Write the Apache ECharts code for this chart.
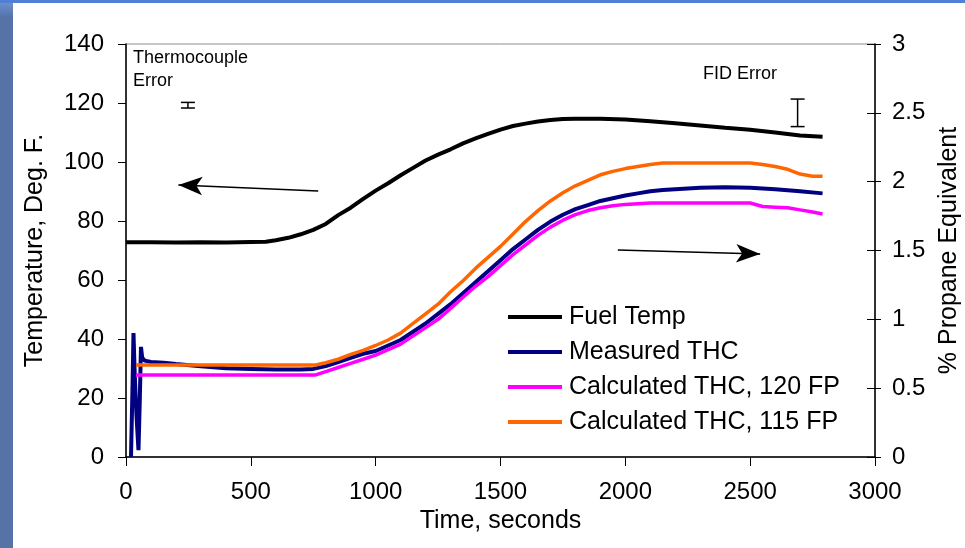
<!DOCTYPE html>
<html>
<head>
<meta charset="utf-8">
<script src="https://cdn.jsdelivr.net/npm/echarts@6/dist/echarts.min.js"></script>
<style>
html,body{margin:0;padding:0;background:#fff;}
#c{width:965px;height:548px;}
</style>
</head>
<body>
<div id="c"></div>
<script>
// ---- data ----
const fuelTime = [0,100,200,300,400,500,560,600,650,700,750,800,850,900,950,1000,1050,1100,1150,1200,1250,1300,1350,1400,1450,1500,1550,1600,1650,1700,1750,1800,1900,2000,2100,2200,2300,2400,2500,2600,2700,2790];
const fuelTemp = [72.8,72.8,72.7,72.8,72.7,72.9,73,73.5,74.3,75.5,77,79,82,84.5,87.5,90.3,92.8,95.5,98,100.5,102.5,104.3,106.3,108,109.5,111,112.2,113,113.7,114.2,114.6,114.7,114.7,114.4,113.8,113.1,112.4,111.6,110.9,110.0,109.0,108.6];

const measTime = [20,26,30,35,42,50,55,60,65,75,100,150,200,300,400,500,600,700,750,800,850,900,950,1000,1050,1100,1150,1200,1250,1300,1350,1400,1450,1500,1550,1600,1650,1700,1750,1800,1850,1900,1950,2000,2050,2100,2150,2200,2300,2400,2500,2600,2700,2790];
const measTHC = [0,0.5,0.9,0.6,0.3,0.05,0.4,0.8,0.72,0.7,0.69,0.685,0.675,0.66,0.645,0.64,0.635,0.635,0.64,0.66,0.69,0.72,0.75,0.77,0.81,0.85,0.91,0.97,1.04,1.11,1.19,1.27,1.35,1.43,1.51,1.58,1.65,1.71,1.76,1.80,1.83,1.86,1.88,1.90,1.915,1.93,1.94,1.945,1.955,1.96,1.955,1.945,1.93,1.915];

const calcTime = [40,200,400,600,760,800,850,900,950,1000,1050,1100,1150,1200,1250,1300,1350,1400,1450,1500,1550,1600,1650,1700,1750,1800,1850,1900,1950,2000,2050,2100,2150,2500,2550,2600,2650,2700,2750,2790];
const calc120 = [0.596,0.596,0.596,0.596,0.596,0.62,0.65,0.68,0.71,0.74,0.78,0.82,0.88,0.94,1.0,1.08,1.16,1.24,1.31,1.39,1.47,1.54,1.61,1.67,1.72,1.76,1.79,1.81,1.825,1.835,1.84,1.845,1.845,1.845,1.82,1.815,1.81,1.795,1.78,1.765];
const calc115 = [0.668,0.668,0.668,0.668,0.668,0.685,0.71,0.745,0.775,0.81,0.85,0.9,0.97,1.04,1.11,1.2,1.28,1.37,1.45,1.53,1.62,1.71,1.79,1.86,1.92,1.97,2.01,2.05,2.075,2.095,2.11,2.125,2.135,2.135,2.125,2.11,2.09,2.055,2.04,2.04];

const seriesNames = ['Fuel Temp','Measured THC','Calculated THC, 120 FP','Calculated THC, 115 FP'];
const xTicks = {min:0, max:3000, interval:500};
const yLeftTicks = {min:0, max:140, interval:20};
const yRightTicks = {min:0, max:3, interval:0.5};

// error bars: [time, low, high]
const thermoErr = [[248, 118.3, 120.2]];
const fidErr = [[2690, 2.4, 2.6]];
// arrows: [from, to] in data coords
const leftArrow = [[770, 90.2], [210, 92.2]];
const rightArrow = [[1970, 1.503], [2540, 1.475]];

const zip = (a, b) => a.map((v, i) => [v, b[i]]);

const FONT = "'Liberation Sans', Arial, sans-serif";
const chart = echarts.init(document.getElementById('c'), null, {renderer:'canvas'});

function errRender(capW){
  return function(params, api){
    const x = api.value(0);
    const top = api.coord([x, api.value(2)]);
    const bot = api.coord([x, api.value(1)]);
    const st = {stroke:'#000', lineWidth:1.5};
    return {type:'group', children:[
      {type:'line', shape:{x1:top[0], y1:top[1], x2:bot[0], y2:bot[1]}, style:st},
      {type:'line', shape:{x1:top[0]-capW, y1:top[1], x2:top[0]+capW, y2:top[1]}, style:st},
      {type:'line', shape:{x1:bot[0]-capW, y1:bot[1], x2:bot[0]+capW, y2:bot[1]}, style:st}
    ]};
  };
}

const arrowLine = (pts) => ({
  silent:true, symbol:['none','arrow'], symbolSize:[14,24],
  lineStyle:{color:'#000', width:1.5, type:'solid'},
  label:{show:false}, emphasis:{disabled:true},
  data:[[{coord:pts[0]},{coord:pts[1]}]]
});

const option = {
  animation:false,
  backgroundColor:'#fff',
  textStyle:{fontFamily:FONT},
  grid:{left:126, right:90, top:44, bottom:91, show:true, borderColor:'#8c8c8c', borderWidth:1, outerBoundsMode:'none'},
  legend:{
    data:seriesNames, orient:'vertical', left:503, top:299,
    icon:'rect', itemWidth:54, itemHeight:4, itemGap:9,
    textStyle:{fontSize:25, color:'#000', fontFamily:FONT, lineHeight:26, padding:[0,0,0,2]},
    selectedMode:false
  },
  xAxis:{
    type:'value', min:xTicks.min, max:xTicks.max, interval:xTicks.interval,
    name:'Time, seconds', nameLocation:'middle', nameGap:51,
    nameTextStyle:{fontSize:25, color:'#000', fontFamily:FONT},
    axisLine:{show:true, onZero:false, lineStyle:{color:'#000', width:1.5}},
    axisTick:{show:true, inside:false, length:9, lineStyle:{color:'#000', width:1}},
    axisLabel:{fontSize:24, color:'#000', margin:23, fontFamily:FONT, formatter:(v) => String(v)},
    splitLine:{show:false}
  },
  yAxis:[
    {
      type:'value', min:yLeftTicks.min, max:yLeftTicks.max, interval:yLeftTicks.interval, position:'left',
      name:'Temperature, Deg. F.', nameLocation:'middle', nameGap:78, nameRotate:90,
      nameTextStyle:{fontSize:25, color:'#000', fontFamily:FONT},
      axisLine:{show:true, lineStyle:{color:'#000', width:1.5}},
      axisTick:{show:true, inside:false, length:8, lineStyle:{color:'#000', width:1}},
      axisLabel:{fontSize:24, color:'#000', margin:22, fontFamily:FONT},
      splitLine:{show:false}
    },
    {
      type:'value', min:yRightTicks.min, max:yRightTicks.max, interval:yRightTicks.interval, position:'right',
      name:'% Propane Equivalent', nameLocation:'middle', nameGap:62, nameRotate:90,
      nameTextStyle:{fontSize:25, color:'#000', fontFamily:FONT},
      axisLine:{show:true, lineStyle:{color:'#000', width:1.5}},
      axisTick:{show:true, inside:true, length:8, lineStyle:{color:'#000', width:1}},
      axisLabel:{fontSize:24, color:'#000', margin:17, fontFamily:FONT},
      splitLine:{show:false}
    },
    {
      type:'value', min:yRightTicks.min, max:yRightTicks.max, interval:yRightTicks.interval, position:'right',
      axisLine:{show:false},
      axisTick:{show:true, inside:false, length:6, lineStyle:{color:'#000', width:1}},
      axisLabel:{show:false},
      splitLine:{show:false}
    }
  ],
  series:[
    {
      name:seriesNames[0], type:'line', yAxisIndex:0, data:zip(fuelTime, fuelTemp),
      showSymbol:false, symbol:'none', color:'#000', lineStyle:{color:'#000', width:4},
      markLine:arrowLine(leftArrow), z:3
    },
    {
      name:seriesNames[1], type:'line', yAxisIndex:1, data:zip(measTime, measTHC),
      showSymbol:false, symbol:'none', color:'#000080', lineStyle:{color:'#000080', width:4},
      markLine:arrowLine(rightArrow), z:3
    },
    {
      name:seriesNames[2], type:'line', yAxisIndex:1, data:zip(calcTime, calc120),
      showSymbol:false, symbol:'none', color:'#ff00ff', lineStyle:{color:'#ff00ff', width:3.5}, z:3
    },
    {
      name:seriesNames[3], type:'line', yAxisIndex:1, data:zip(calcTime, calc115),
      showSymbol:false, symbol:'none', color:'#ff6600', lineStyle:{color:'#ff6600', width:3.5}, z:3
    },
    {
      name:'thermoErr', type:'custom', yAxisIndex:0, data:thermoErr, renderItem:errRender(7),
      encode:{x:0, y:[1,2]}, silent:true, z:4
    },
    {
      name:'fidErr', type:'custom', yAxisIndex:1, data:fidErr, renderItem:errRender(7),
      encode:{x:0, y:[1,2]}, silent:true, z:4
    }
  ],
  graphic:[
    {type:'rect', left:0, top:0, shape:{width:13, height:548}, style:{fill:'#5673a8'}, silent:true},
    {type:'rect', left:0, top:3, shape:{width:13, height:14},
      style:{fill:new echarts.graphic.LinearGradient(0,0,0,1,[{offset:0,color:'#6a8fd0'},{offset:1,color:'#5673a8'}])}, silent:true},
    {type:'rect', left:0, top:0, shape:{width:965, height:3}, style:{fill:'#4f80d6'}, silent:true},
    {type:'text', left:133, top:49, style:{text:'Thermocouple', fontSize:18, fill:'#000', fontFamily:FONT}, silent:true},
    {type:'text', left:133, top:72, style:{text:'Error', fontSize:18, fill:'#000', fontFamily:FONT}, silent:true},
    {type:'text', left:703, top:65, style:{text:'FID Error', fontSize:18, fill:'#000', fontFamily:FONT}, silent:true}
  ]
};
chart.setOption(option);
</script>
</body>
</html>
